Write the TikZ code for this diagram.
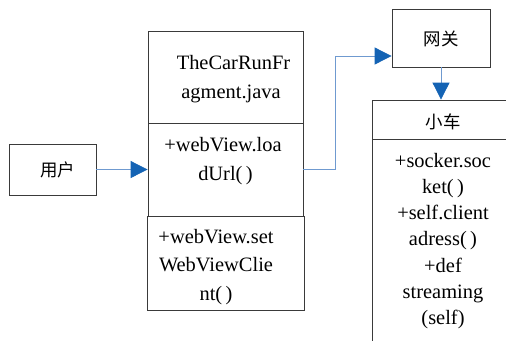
\documentclass[tikz,border=0pt]{standalone}
\usepackage{fontspec}
\setmainfont{Liberation Serif}
\newfontfamily\cjk{Noto Sans CJK SC}
\usetikzlibrary{arrows.meta}
\definecolor{boxline}{HTML}{3A3A3A}
\definecolor{connline}{HTML}{6F9AD0}
\definecolor{tipblue}{HTML}{1463B4}
\begin{document}
\begin{tikzpicture}[x=1bp,y=-1bp,
  box/.style={draw=boxline,line width=0.8bp,inner sep=0pt},
  txt/.style={align=center,inner sep=0pt,font=\fontsize{20.5}{29}\selectfont},
  cjktxt/.style={inner sep=0pt,font=\fontsize{17.5}{20}\selectfont\cjk},
  conn/.style={draw=connline,line width=0.8bp,-{Triangle[length=17bp,width=17bp,fill=tipblue,color=tipblue]}}]
\useasboundingbox (0,0) rectangle (506,340);
\clip (0,0) rectangle (506,340);
% boxes
\node[box,minimum width=87bp,minimum height=51bp] (user) at (52.5,169.5) {};
\node[box,minimum width=155bp,minimum height=92bp] (top) at (225.5,77) {};
\node[box,minimum width=155bp,minimum height=93bp] (mid) at (225.5,169.5) {};
\node[box,minimum width=157bp,minimum height=94bp] (bot) at (225.5,263) {};
\node[box,minimum width=98bp,minimum height=58bp] (gw) at (441,38) {};
\node[box,minimum width=148bp,minimum height=39bp] (car) at (446,119.5) {};
\node[box,minimum width=148bp,minimum height=221bp] (carbody) at (446,249.5) {};
% texts
\node[cjktxt] (usertxt) at (57.5,170) {用户};
\node[cjktxt] (gwtxt) at (441,39) {网关};
\node[cjktxt] (cartxt) at (443,122) {小车};
\node[txt] (toptxt) at (231,79) {\hspace*{5bp}TheCarRunFr\\agment.java};
\node[txt] (midtxt) at (223,161) {+webView.loa\\\hspace*{5bp}dUrl(\,)};
\node[txt,font=\fontsize{20.5}{29}\selectfont] (bottxt) at (216,267) {+webView.set\\WebViewClie\\nt(\,)};
\node[txt,font=\fontsize{20.5}{26.2}\selectfont] (cartxt2) at (443,241) {+socker.soc\\ket(\,)\\+self.client\\adress(\,)\\+def\\streaming\\(self)};
% connectors
\coordinate (bend) at (335,56);
\draw[conn] (user.east) -- (mid.west);
\draw[conn] (mid.east) -| (bend) -- (bend -| gw.west);
\draw[conn] (gw.south) -- (gw.south |- car.north);
\end{tikzpicture}
\end{document}
